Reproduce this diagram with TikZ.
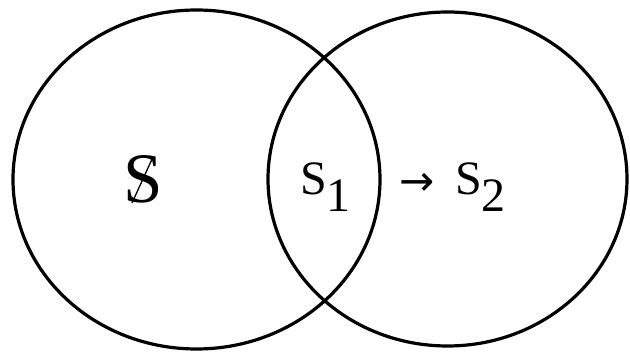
\documentclass[tikz,border=0pt]{standalone}
\usepackage{fontspec}
\setmainfont{Liberation Serif}
\newfontfamily\arrowfont{DejaVu Sans}
\begin{document}
\begin{tikzpicture}[x=1pt,y=-1pt,
  ring/.style={line width=3.2pt,draw=black},
  lbl/.style={inner sep=0pt,outer sep=0pt,anchor=base west,font=\fontsize{48}{48}\selectfont},
  biglbl/.style={inner sep=0pt,outer sep=0pt,anchor=base west,font=\fontsize{71}{71}\selectfont}]
\useasboundingbox (0,0) rectangle (630,352);
\draw[ring] (196.5,179.5) ellipse [x radius=183.5, y radius=169.5];
\draw[ring] (447.5,179) ellipse [x radius=179.5, y radius=167];
\node[biglbl] (s) at (123,203) {S};
\draw[line width=1.3pt] (132,203) -- (153,157);
\node[lbl] (s1) at (300,195) {S\raisebox{-17pt}{1}};
\node[inner sep=0pt,outer sep=0pt,anchor=center,font=\fontsize{42}{42}\arrowfont] (arr) at (417,184) {→};
\node[lbl] (s2) at (455,195) {S\raisebox{-17pt}{2}};
\end{tikzpicture}
\end{document}
